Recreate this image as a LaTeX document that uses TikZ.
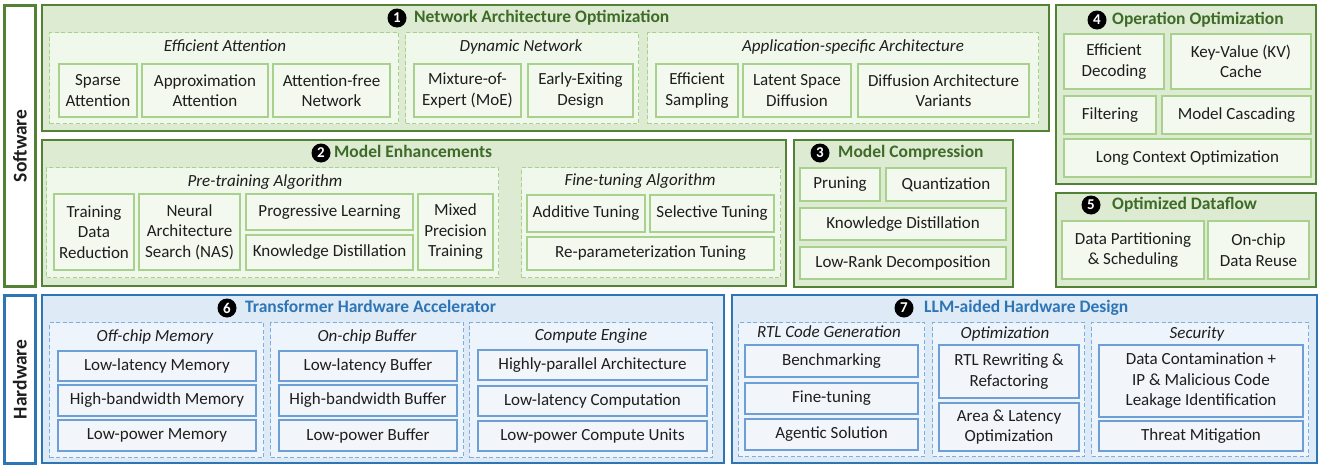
\documentclass[tikz,border=0pt]{standalone}
\usepackage{fontspec}
\setmainfont{Carlito}
\definecolor{gdark}{HTML}{548235}
\definecolor{gpanel}{HTML}{DDEBD3}
\definecolor{gdash}{HTML}{A9D18E}
\definecolor{ggroup}{HTML}{F0F7EB}
\definecolor{gitem}{HTML}{A9D18E}
\definecolor{gfill}{HTML}{F3F9EF}
\definecolor{gtitle}{HTML}{3E6B27}
\definecolor{bdark}{HTML}{2E75B6}
\definecolor{bpanel}{HTML}{DEEBF7}
\definecolor{bdash}{HTML}{7EAEDD}
\definecolor{bgroup}{HTML}{EEF4FB}
\definecolor{bitem}{HTML}{6C9FD6}
\definecolor{bfill}{HTML}{F2F6FB}
\definecolor{btitle}{HTML}{2E75B6}
\definecolor{ink}{HTML}{1E1E1E}
% box given by its top-left and bottom-right corners (x grows right, y grows down)
\newcommand\boxat[7]{\node[#1, anchor=north west, minimum width={#5pt-#3pt}, minimum height={#6pt-#4pt}] (#2) at (#3,#4) {#7};}
\tikzset{
  every node/.style={font=\fontsize{17}{20.5}\selectfont, text=ink, inner sep=0pt, align=center},
  swpanel/.style={draw=gdark, fill=gpanel, line width=2.4pt},
  swgroup/.style={draw=gdash, fill=ggroup, line width=1.4pt, dash pattern=on 4pt off 2.5pt},
  switem/.style={draw=gitem, fill=gfill, line width=2pt},
  hwpanel/.style={draw=bdark, fill=bpanel, line width=2.4pt},
  hwgroup/.style={draw=bdash, fill=bgroup, line width=1.4pt, dash pattern=on 4pt off 2.5pt},
  hwitem/.style={draw=bitem, fill=bfill, line width=2pt},
  sidebox/.style={fill=white, line width=2.6pt},
  sidetext/.style={rotate=90, font=\fontsize{19.5}{22}\bfseries},
  grouplabel/.style={font=\fontsize{17}{20}\itshape, text height=12pt, text depth=4pt},
  ttl/.style={anchor=west, font=\fontsize{17.5}{20}\bfseries, text=#1, text height=12pt, text depth=4pt},
  badge/.style={circle, fill=black, minimum size=19pt, text=white, font=\fontsize{15}{15}\bfseries},
}
\begin{document}
\begin{tikzpicture}[x=1pt, y=-1pt]
\useasboundingbox[fill=white] (0,0) rectangle (1325,466);

% ---------------- side labels ----------------
\boxat{sidebox, draw=gdark}{sw}{3}{4}{34}{285}{}
\node[sidetext] (swtxt) at (sw.center) {Software};
\boxat{sidebox, draw=bdark}{hw}{3}{294}{34}{462}{}
\node[sidetext] (hwtxt) at (hw.center) {Hardware};

% ---------------- 1: network architecture optimization ----------------
\boxat{swpanel}{p1}{41}{4}{1048}{130}{}
\node[badge] (b1) at (397,18) {1};
\node[ttl=gtitle] (t1) at (414,18) {Network Architecture Optimization};

\boxat{swgroup}{g1a}{49}{32}{398}{123}{}
\node[grouplabel] (l1a) at (225,47) {Efficient Attention};
\boxat{switem}{i1a}{58}{63}{136}{116}{Sparse\\Attention}
\boxat{switem}{i1b}{141}{63}{267}{116}{Approximation\\Attention}
\boxat{switem}{i1c}{272}{63}{389}{116}{Attention-free\\Network}

\boxat{swgroup}{g1b}{405}{32}{638}{123}{}
\node[grouplabel] (l1b) at (521,47) {Dynamic Network};
\boxat{switem}{i1d}{413}{63}{520}{116}{Mixture-of-\\Expert (MoE)}
\boxat{switem}{i1e}{527}{63}{632}{116}{Early-Exiting\\Design}

\boxat{swgroup}{g1c}{647}{32}{1038}{123}{}
\node[grouplabel] (l1c) at (853,47) {Application-specific Architecture};
\boxat{switem}{i1f}{655}{63}{737}{116}{Efficient\\Sampling}
\boxat{switem}{i1g}{742}{63}{850}{116}{Latent Space\\Diffusion}
\boxat{switem}{i1h}{857}{63}{1028}{116}{Diffusion Architecture\\Variants}

% ---------------- 2: model enhancements ----------------
\boxat{swpanel}{p2}{41}{139}{785}{285}{}
\node[badge] (b2) at (321,153) {2};
\node[ttl=gtitle] (t2) at (334,153) {Model Enhancements};

\boxat{swgroup}{g2a}{46}{167}{498}{277}{}
\node[grouplabel] (l2a) at (265,182) {Pre-training Algorithm};
\boxat{switem}{i2a}{53}{193}{133}{269}{Training\\Data\\Reduction}
\boxat{switem}{i2b}{138}{193}{239}{269}{Neural\\Architecture\\Search (NAS)}
\boxat{switem}{i2c}{245}{193}{412}{229}{Progressive Learning}
\boxat{switem}{i2d}{245}{234}{412}{269}{Knowledge Distillation}
\boxat{switem}{i2e}{417}{193}{492}{269}{Mixed\\Precision\\Training}

\boxat{swgroup}{g2b}{521}{167}{780}{277}{}
\node[grouplabel] (l2b) at (640,181) {Fine-tuning Algorithm};
\boxat{switem}{i2f}{526}{194}{644}{231}{Additive Tuning}
\boxat{switem}{i2g}{649}{194}{773}{231}{Selective Tuning}
\boxat{switem}{i2h}{526}{236}{773}{269}{Re-parameterization Tuning}

% ---------------- 3: model compression ----------------
\boxat{swpanel}{p3}{793}{139}{1012}{286}{}
\node[badge] (b3) at (820,153) {3};
\node[ttl=gtitle] (t3) at (838,153) {Model Compression};
\boxat{switem}{i3a}{799}{167}{879}{200}{Pruning}
\boxat{switem}{i3b}{885}{167}{1005}{200}{Quantization}
\boxat{switem}{i3c}{799}{207}{1005}{239}{Knowledge Distillation}
\boxat{switem}{i3d}{799}{246}{1005}{278}{Low-Rank Decomposition}

% ---------------- 4: operation optimization ----------------
\boxat{swpanel}{p4}{1055}{4}{1315}{183}{}
\node[badge] (b4) at (1097,20) {4};
\node[ttl=gtitle] (t4) at (1112,20) {Operation Optimization};
\boxat{switem}{i4a}{1063}{33}{1163}{88}{Efficient\\Decoding}
\boxat{switem}{i4b}{1170}{33}{1310}{88}{Key-Value (KV)\\Cache}
\boxat{switem}{i4c}{1063}{95}{1155}{133}{Filtering}
\boxat{switem}{i4d}{1161}{95}{1310}{133}{Model Cascading}
\boxat{switem}{i4e}{1063}{138}{1310}{176}{Long Context Optimization}

% ---------------- 5: optimized dataflow ----------------
\boxat{swpanel}{p5}{1055}{192}{1315}{286}{}
\node[badge] (b5) at (1091,205) {5};
\node[ttl=gtitle] (t5) at (1112,205) {Optimized Dataflow};
\boxat{switem}{i5a}{1061}{220}{1203}{278}{Data Partitioning\\\& Scheduling}
\boxat{switem}{i5b}{1207}{220}{1308}{278}{On-chip\\Data Reuse}

% ---------------- 6: transformer hardware accelerator ----------------
\boxat{hwpanel}{p6}{41}{294}{723}{462}{}
\node[badge] (b6) at (227,308) {6};
\node[ttl=btitle] (t6) at (245,308) {Transformer Hardware Accelerator};

\boxat{hwgroup}{g6a}{49}{322}{263}{457}{}
\node[grouplabel] (l6a) at (155,337) {Off-chip Memory};
\boxat{hwitem}{i6a}{57}{350}{255}{380}{Low-latency Memory}
\boxat{hwitem}{i6b}{57}{384}{255}{415}{High-bandwidth Memory}
\boxat{hwitem}{i6c}{57}{419}{255}{450}{Low-power Memory}

\boxat{hwgroup}{g6b}{270}{322}{463}{457}{}
\node[grouplabel] (l6b) at (367,337) {On-chip Buffer};
\boxat{hwitem}{i6d}{278}{350}{456}{380}{Low-latency Buffer}
\boxat{hwitem}{i6e}{278}{384}{456}{415}{High-bandwidth Buffer}
\boxat{hwitem}{i6f}{278}{419}{456}{450}{Low-power Buffer}

\boxat{hwgroup}{g6c}{469}{322}{712}{457}{}
\node[grouplabel] (l6c) at (591,336) {Compute Engine};
\boxat{hwitem}{i6g}{477}{349}{706}{379}{Highly-parallel Architecture}
\boxat{hwitem}{i6h}{477}{385}{706}{415}{Low-latency Computation}
\boxat{hwitem}{i6i}{477}{420}{706}{450}{Low-power Compute Units}

% ---------------- 7: LLM-aided hardware design ----------------
\boxat{hwpanel}{p7}{731}{294}{1316}{462}{}
\node[badge] (b7) at (904,308) {7};
\node[ttl=btitle] (t7) at (924,308) {LLM-aided Hardware Design};

\boxat{hwgroup}{g7a}{738}{322}{924}{456}{}
\node[grouplabel] (l7a) at (829,333) {RTL Code Generation};
\boxat{hwitem}{i7a}{744}{344}{917}{376}{Benchmarking}
\boxat{hwitem}{i7b}{744}{382}{917}{413}{Fine-tuning}
\boxat{hwitem}{i7c}{744}{418}{917}{449}{Agentic Solution}

\boxat{hwgroup}{g7b}{932}{322}{1084}{456}{}
\node[grouplabel] (l7b) at (1005,334) {Optimization};
\boxat{hwitem}{i7d}{938}{344}{1078}{397}{RTL Rewriting \&\\Refactoring}
\boxat{hwitem}{i7e}{938}{402}{1078}{450}{Area \& Latency\\Optimization}

\boxat{hwgroup}{g7c}{1091}{322}{1308}{456}{}
\node[grouplabel] (l7c) at (1197,334) {Security};
\boxat{hwitem}{i7f}{1098}{344}{1302}{416}{Data Contamination +\\IP \& Malicious Code\\Leakage Identification}
\boxat{hwitem}{i7g}{1098}{420}{1302}{450}{Threat Mitigation}
\end{tikzpicture}
\end{document}
